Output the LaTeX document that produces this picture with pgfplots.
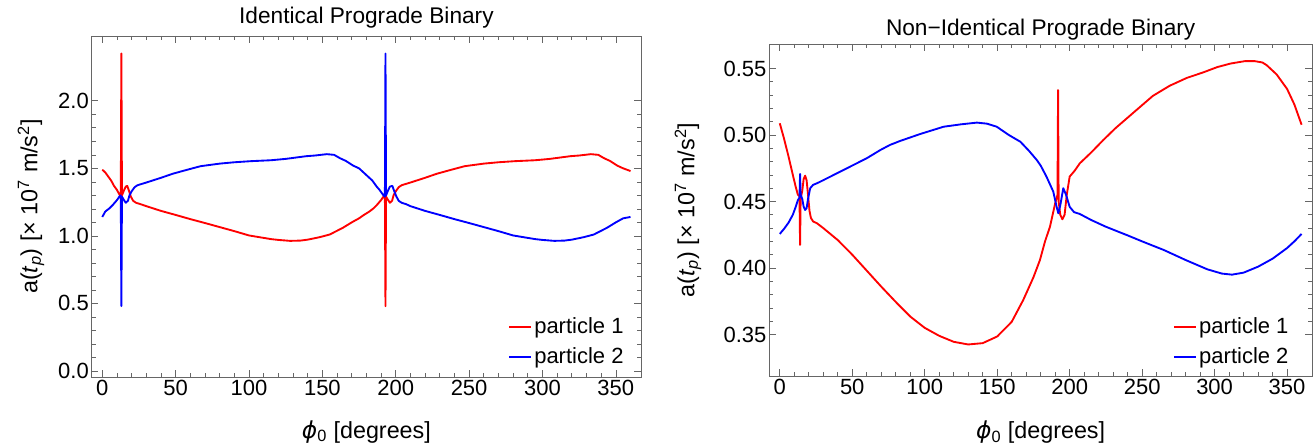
\documentclass[border=0pt]{standalone}
\usepackage{fontspec}
\setmainfont{Liberation Sans}
\newfontfamily\dejavu{DejaVu Sans}
\usepackage{pgfplots}
\pgfplotsset{compat=1.18}
\definecolor{framegray}{gray}{0.4}
\tikzset{
 p1/.style={red, line width=1.4pt, line join=round},
 p2/.style={blue, line width=1.4pt, line join=round},
}
\pgfplotsset{
 myax/.style={
  scale only axis,
  clip mode=individual,
  xmin=-7.2, xmax=367.2,
  xtick={0,50,...,350},
  minor x tick num=4,
  minor y tick num=4,
  tick align=inside,
  major tick length=5pt,
  minor tick length=3pt,
  axis line style={framegray, line width=0.6pt},
  every tick/.style={framegray, line width=0.5pt},
  tick label style={font=\fontsize{16.5}{16.5}\selectfont, inner sep=2pt, text=black},
  /pgf/number format/assume math mode=true,
  label style={font=\fontsize{17.5}{17.5}\selectfont},
  legend style={draw=none, fill=none, inner sep=0pt, font=\fontsize{16.5}{16.5}\selectfont, row sep=5pt, anchor=north west},
  legend cell align=left,
  legend image code/.code={\draw[#1] (0pt,0pt) -- (16pt,0pt);},
  xlabel={{\dejavu\itshape ϕ}\textsubscript{0} [degrees]},
  ylabel={a(\textit{t}\textsubscript{\textit{p}}) [× 10\textsuperscript{7} m/s\textsuperscript{2}]},
 },
}
\begin{document}
\begin{tikzpicture}
\useasboundingbox (0,0) rectangle (987pt,334.5pt);
\begin{axis}[myax,
  at={(68.8pt,51.75pt)}, anchor=south west,
  width=412pt, height=255.75pt,
  ymin=-0.045, ymax=2.48,
  ytick={0,0.5,...,2.0},
  yticklabel style={/pgf/number format/.cd, fixed, fixed zerofill, precision=1},
  xlabel style={at={(axis description cs:0.5,-0.161)}, anchor=center},
  ylabel style={at={(axis description cs:-0.1105,0.5)}, anchor=center},
  legend style={at={(axis description cs:0.758,0.182)}},
]
\addplot[p1, forget plot] coordinates {
(0,1.49) (2,1.47) (4,1.44) (6,1.41) (8,1.37) (10,1.34) (11.5,1.31) (12.6,1.29)
(13,2.35) (13.4,1.30) (14.5,1.33) (16,1.365) (17,1.37) (18,1.34) (19.5,1.29)
(21,1.26) (23,1.245) (26,1.235) (30,1.22) (40,1.185) (50,1.155) (60,1.124)
(70,1.095) (80,1.065) (90,1.035) (100,1.003) (110,0.985) (115,0.976) (120,0.97)
(128,0.963) (135,0.965) (140,0.972) (148,0.99) (155,1.01) (164,1.06) (170,1.10)
(175,1.13) (178,1.153) (182,1.18) (185,1.205) (187,1.227) (190,1.265) (191.6,1.29)
(192.6,1.30) (193,0.48) (193.4,1.29) (194.5,1.27) (196,1.245) (197.5,1.26)
(198.5,1.30) (200,1.33) (202,1.36) (204,1.375) (207,1.385) (210,1.395) (220,1.43)
(228,1.46) (238,1.49) (247,1.516) (260,1.535) (270,1.545) (281,1.553) (295,1.56)
(305,1.57) (319,1.59) (325,1.595) (333,1.605) (338,1.60) (342,1.575) (346,1.555)
(351,1.52) (355,1.50) (360,1.48)
};
\addplot[p2, forget plot] coordinates {
(0,1.14) (2,1.18) (5,1.205) (7,1.227) (10,1.265) (11.6,1.29) (12.6,1.30)
(13,0.48) (13.4,1.29) (14.5,1.27) (16,1.245) (17.5,1.26) (18.5,1.30) (20,1.33)
(22,1.36) (24,1.375) (27,1.385) (30,1.395) (40,1.43) (48,1.46) (58,1.49)
(67,1.516) (80,1.535) (90,1.545) (101,1.553) (115,1.56) (125,1.57) (139,1.59)
(145,1.595) (153,1.605) (158,1.60) (162,1.575) (166,1.555) (171,1.52) (175,1.50)
(180,1.45) (182,1.43) (184,1.41) (187,1.365) (189,1.34) (191.6,1.30) (192.6,1.29)
(193,2.35) (193.4,1.30) (194.5,1.33) (196,1.365) (197.7,1.37) (199,1.33)
(200.5,1.29) (202,1.26) (204,1.245) (207,1.235) (210,1.22) (220,1.185) (230,1.155)
(240,1.124) (250,1.095) (260,1.065) (270,1.035) (280,1.003) (290,0.985) (295,0.976)
(300,0.97) (308,0.963) (315,0.965) (320,0.972) (328,0.99) (335,1.01) (344,1.06)
(350,1.10) (355,1.13) (360,1.14)
};
\addlegendimage{red, line width=1.4pt}
\addlegendentry{particle 1}
\addlegendimage{blue, line width=1.4pt}
\addlegendentry{particle 2}
\node[font=\fontsize{17}{17}\selectfont, anchor=center] at (axis description cs:0.5,1.053) {Identical Prograde Binary};
\end{axis}
\begin{axis}[myax,
  at={(577pt,52.5pt)}, anchor=south west,
  width=407pt, height=249pt,
  ymin=0.3188, ymax=0.5684,
  ytick={0.35,0.40,...,0.56},
  yticklabel style={/pgf/number format/.cd, fixed, fixed zerofill, precision=2},
  xlabel style={at={(axis description cs:0.5,-0.169)}, anchor=center},
  ylabel style={at={(axis description cs:-0.15,0.5)}, anchor=center},
  legend style={at={(axis description cs:0.744,0.1835)}},
]
\addplot[p1, forget plot] coordinates {
(0,0.5088) (3,0.497) (6,0.484) (9,0.470) (11,0.461) (12.5,0.455) (13.6,0.454)
(14,0.4173) (14.4,0.452) (15.5,0.458) (16.5,0.467) (17.5,0.4694) (18.5,0.466)
(19.5,0.455) (20.5,0.443) (21.5,0.4376) (23,0.435) (25.7,0.4336) (30,0.430)
(40,0.421) (50,0.410) (60,0.398) (70,0.386) (80,0.3745) (90,0.3635) (100,0.355)
(110,0.349) (120,0.3445) (130,0.3425) (140,0.3435) (150,0.3485) (160,0.3595)
(168,0.376) (175,0.393) (179.5,0.406) (183,0.420) (186.4,0.431) (190,0.4486)
(191.6,0.455) (192,0.5338) (192.4,0.450) (193.5,0.440) (195,0.4366) (196.5,0.440)
(198,0.455) (200,0.4687) (203.5,0.4732) (207,0.4787) (215,0.487) (223,0.496)
(231.6,0.5051) (245.7,0.5184) (257.4,0.5294) (269,0.537) (280.8,0.5429) (292,0.547)
(302,0.5511) (311,0.5537) (320.8,0.5555) (327.7,0.5555) (333,0.5545) (336,0.5524)
(342.8,0.5455) (350,0.5346) (355,0.523) (360,0.5077)
};
\addplot[p2, forget plot] coordinates {
(0,0.4256) (3,0.4295) (6,0.434) (9,0.440) (11,0.446) (12.5,0.451) (13.6,0.453)
(14,0.4707) (14.4,0.455) (15.5,0.452) (16.5,0.446) (17.5,0.4436) (18.5,0.445)
(19.5,0.452) (21,0.46) (23,0.4625) (25.7,0.4637) (30,0.466) (40,0.4715) (50,0.477)
(60,0.4825) (69.4,0.4887) (76,0.4925) (83,0.4955) (96.8,0.5007) (113,0.5062)
(125,0.508) (136,0.5093) (143,0.5085) (149.7,0.5062) (158,0.500) (166,0.4949)
(172,0.488) (177.3,0.4812) (180,0.477) (184,0.4687) (188.7,0.4574) (191,0.446)
(192.2,0.4411) (193.5,0.447) (195.6,0.46) (197.5,0.455) (200,0.446) (203,0.442)
(207,0.4406) (215,0.436) (225,0.431) (240,0.4245) (250,0.420) (265,0.4135)
(280,0.406) (295,0.399) (305,0.3958) (312,0.395) (320,0.3965) (330,0.401)
(340,0.407) (350,0.415) (355,0.420) (360,0.4256)
};
\addlegendimage{red, line width=1.4pt}
\addlegendentry{particle 1}
\addlegendimage{blue, line width=1.4pt}
\addlegendentry{particle 2}
\node[font=\fontsize{17}{17}\selectfont, anchor=center] at (axis description cs:0.5,1.042) {Non−Identical Prograde Binary};
\end{axis}
\end{tikzpicture}
\end{document}
